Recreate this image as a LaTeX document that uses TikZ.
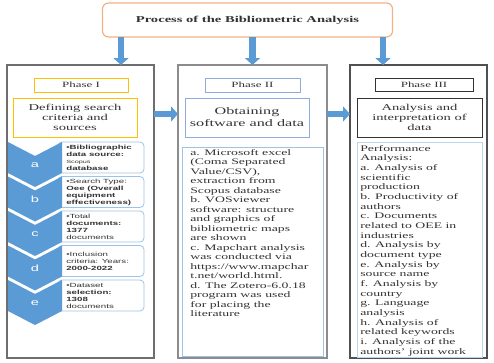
\documentclass[tikz,border=0pt]{standalone}
\usepackage{fontspec}
\setmainfont{Liberation Serif}
\newfontfamily\itemfont{Liberation Sans}
\usetikzlibrary{arrows.meta,positioning,calc}
\usepackage{xcolor}
\definecolor{framegray}{HTML}{6E6E6E}
\definecolor{lightframe}{HTML}{8C8C8C}
\definecolor{darkframe}{HTML}{505050}
\definecolor{dark}{HTML}{333333}
\definecolor{titleorange}{HTML}{F4B183}
\definecolor{tagyellow}{HTML}{FFC000}
\definecolor{tagblue}{HTML}{8FAADC}
\definecolor{paleblue}{HTML}{9DC3E6}
\definecolor{chevblue}{HTML}{5B9BD5}
\tikzset{
  emptybox/.style={inner sep=0pt, outer sep=0pt},
  titlebox/.style={emptybox, draw=titleorange, line width=1.2pt, rounded corners=6pt, minimum width=290pt, minimum height=34pt},
  frame/.style={emptybox, draw=framegray, line width=1.4pt, minimum height=293pt},
  tagbox/.style={emptybox, line width=0.9pt, minimum height=14pt},
  headbox/.style={emptybox, line width=0.9pt, minimum height=39pt, minimum width=124pt},
  bodybox/.style={emptybox, draw=paleblue, line width=0.8pt},
  itembox/.style={emptybox, draw=paleblue, line width=0.8pt, rounded corners=4pt, minimum width=86pt, minimum height=31pt},
  wide/.style={inner sep=0pt, xscale=1.62, text=dark},
  titletext/.style={wide, font=\fontsize{9}{10}\selectfont\bfseries},
  tagtext/.style={wide, font=\fontsize{8}{9}\selectfont},
  headtext/.style={wide, align=center, font=\fontsize{9}{10}\selectfont},
  bodytext/.style={wide, align=left, anchor=north west},
  itemtext/.style={wide, align=left, anchor=west, font=\itemfont\fontsize{6}{7}\selectfont},
  chevtext/.style={inner sep=0pt, xscale=1.62, text=white, font=\itemfont\fontsize{9}{10}\selectfont},
  fatarrow/.style={draw=chevblue, line width=6.5pt, -{Triangle[width=15pt,length=7pt]}}
}

\begin{document}
\begin{tikzpicture}[x=1pt, y=-1pt]
  \useasboundingbox (0,0) rectangle (494,362);
  % title
  \node[titlebox] (title) at (247.5,20) {};
  \node[titletext] (titletxt) at (title) {Process of the Bibliometric Analysis};

  % the three phase frames
  \node[frame, minimum width=147pt] (p1) at (80.5,211.5) {};
  \node[frame, draw=lightframe, minimum width=149pt] (p2) at (252.5,211.5) {};
  \node[frame, draw=darkframe, minimum width=137pt] (p3) at (418.5,211.5) {};

  % arrows from the title and between the phases
  \coordinate (a1) at (121,0);
  \coordinate (a3) at (383,0);
  \coordinate (hy) at (0,114);
  \draw[fatarrow] (title.south -| a1) -- (p1.north -| a1);
  \draw[fatarrow] (title.south -| p2.north) -- (p2.north);
  \draw[fatarrow] (title.south -| a3) -- (p3.north -| a3);
  \draw[fatarrow] (p1.east |- hy) -- (p2.west |- hy);
  \draw[fatarrow] (p2.east |- hy) -- (p3.west |- hy);

  % Phase I
  \node[tagbox, draw=tagyellow, minimum width=94pt] (p1tag) at (81,85) {};
  \node[tagtext] (p1tagtxt) at (p1tag) {Phase I};
  \node[headbox, draw=tagyellow] (p1head) at (75,117.5) {};
  \node[headtext] (p1headtxt) at (p1head) {Defining search\\criteria and\\sources};
  \foreach \lab/\txt [count=\i from 0] in {
      a/{\textbf{•Bibliographic}\\\textbf{data source:}\\{\fontsize{4.5}{7}\selectfont Scopus}\\\textbf{database}},
      b/{•Search Type:\\\textbf{Oee (Overall}\\\textbf{equipment}\\\textbf{effectiveness)}},
      c/{•Total\\\textbf{documents:}\\\textbf{1377}\\documents},
      d/{•Inclusion\\criteria: Years:\\\textbf{2000-2022}},
      e/{•Dataset\\\textbf{selection:}\\\textbf{1308}\\documents}}{
    \pgfmathsetmacro{\yk}{142+34.5*\i}
    \node[itembox] (item\lab) at (101,\yk+15.5) {};
    \node[itemtext] (item\lab txt) at (66,\yk+15.5) {\txt};
    \fill[chevblue] (8,\yk) -- (35,\yk+14) -- (62,\yk) -- (62,\yk+31) -- (35,\yk+45) -- (8,\yk+31) -- cycle;
    \node[chevtext] (chev\lab) at (35,\yk+23) {\lab};
  }

  % Phase II
  \node[tagbox, draw=tagblue, minimum width=95pt] (p2tag) at (252.5,85) {};
  \node[tagtext] (p2tagtxt) at (p2tag) {Phase II};
  \node[headbox, draw=tagblue] (p2head) at (247,117.5) {};
  \node[headtext, font=\fontsize{10}{12}\selectfont] (p2headtxt) at (p2head) {Obtaining\\software and data};
  \node[bodybox, minimum width=141pt, minimum height=209pt] (p2body) at (252.5,251.5) {};
  \node[bodytext, font=\fontsize{8.5}{9.5}\selectfont] (p2txt) at (190,149) {a. Microsoft excel\\(Coma Separated\\Value/CSV),\\extraction from\\Scopus database\\b. VOSviewer\\software: structure\\and graphics of\\bibliometric maps\\are shown\\c. Mapchart analysis\\was conducted via\\https://www.mapchar\\t.net/world.html.\\d. The Zotero-6.0.18\\program was used\\for placing the\\literature};

  % Phase III
  \node[tagbox, draw=dark, minimum width=98pt, minimum height=13pt] (p3tag) at (424,84.5) {};
  \node[tagtext] (p3tagtxt) at (p3tag) {Phase III};
  \node[headbox, draw=dark, minimum width=125pt] (p3head) at (419.5,117.5) {};
  \node[headtext] (p3headtxt) at (p3head) {Analysis and\\interpretation of\\data};
  \node[bodybox, draw=paleblue!70, minimum width=125pt, minimum height=215pt] (p3body) at (419.5,249.5) {};
  \node[bodytext, font=\fontsize{8.5}{9.67}\selectfont] (p3txt) at (360,145) {Performance\\Analysis:\\a. Analysis of\\scientific\\production\\b. Productivity of\\authors\\c. Documents\\related to OEE in\\industries\\d. Analysis by\\document type\\e. Analysis by\\source name\\f. Analysis by\\country\\g. Language\\analysis\\h. Analysis of\\related keywords\\i. Analysis of the\\authors' joint work};
\end{tikzpicture}
\end{document}
